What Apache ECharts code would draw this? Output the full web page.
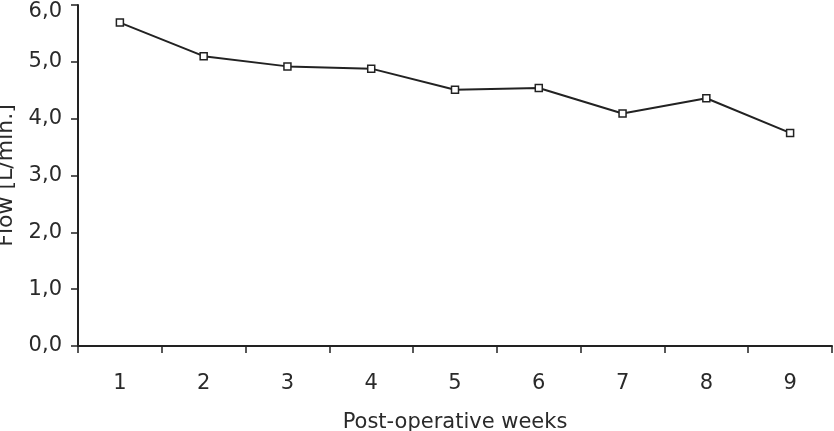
<!DOCTYPE html>
<html>
<head>
<meta charset="utf-8">
<script src="https://cdn.jsdelivr.net/npm/echarts@6/dist/echarts.min.js"></script>
<style>
    html, body { margin: 0; padding: 0; background: #fff; }
    #chart { width: 834px; height: 431px; }
</style>
</head>
<body>
<div id="chart"></div>
<script>
var weeks = ['1', '2', '3', '4', '5', '6', '7', '8', '9'];
var flow = [5.69, 5.10, 4.92, 4.88, 4.51, 4.54, 4.09, 4.36, 3.75];

var myChart = echarts.init(document.getElementById('chart'));
var option = {
    animation: false,
    textStyle: { fontFamily: 'DejaVu Sans, sans-serif' },
    grid: {
        left: 78,
        right: 2,
        top: 5,
        bottom: 85,
        outerBoundsMode: 'none'
    },
    xAxis: {
        type: 'category',
        data: weeks,
        boundaryGap: true,
        name: 'Post-operative weeks',
        nameLocation: 'middle',
        nameGap: 66,
        nameTextStyle: { fontSize: 21, color: '#2a2a2a' },
        axisLine: { lineStyle: { color: '#222', width: 2 } },
        axisTick: { show: true, length: 7, lineStyle: { color: '#222', width: 1.5 } },
        axisLabel: { fontSize: 21, color: '#2a2a2a', margin: 27 },
        splitLine: { show: false }
    },
    yAxis: {
        type: 'value',
        min: 0,
        max: 6,
        interval: 1,
        name: 'Flow [L/min.]',
        nameLocation: 'middle',
        nameGap: 59,
        nameTextStyle: { fontSize: 22, color: '#2a2a2a' },
        axisLine: { show: true, lineStyle: { color: '#222', width: 2 } },
        axisTick: { show: true, length: 7, lineStyle: { color: '#222', width: 1.5 } },
        axisLabel: {
            fontSize: 21,
            color: '#2a2a2a',
            margin: 16,
            formatter: function(v) {
                var s = v.toFixed(1).replace('.', ',');
                // top label sits a little lower in the original
                if (v === 6) return '{top|' + s + '}';
                return s;
            },
            rich: {
                top: { fontSize: 21, color: '#2a2a2a', padding: [13, 0, 0, 0] }
            }
        },
        splitLine: { show: false }
    },
    series: [
        {
            name: 'flow',
            type: 'line',
            data: flow,
            symbol: 'rect',
            symbolSize: 7,
            itemStyle: { color: '#fff', borderColor: '#222', borderWidth: 1.5 },
            lineStyle: { color: '#222', width: 2 }
        }
    ]
};
option && myChart.setOption(option);
</script>
</body>
</html>
